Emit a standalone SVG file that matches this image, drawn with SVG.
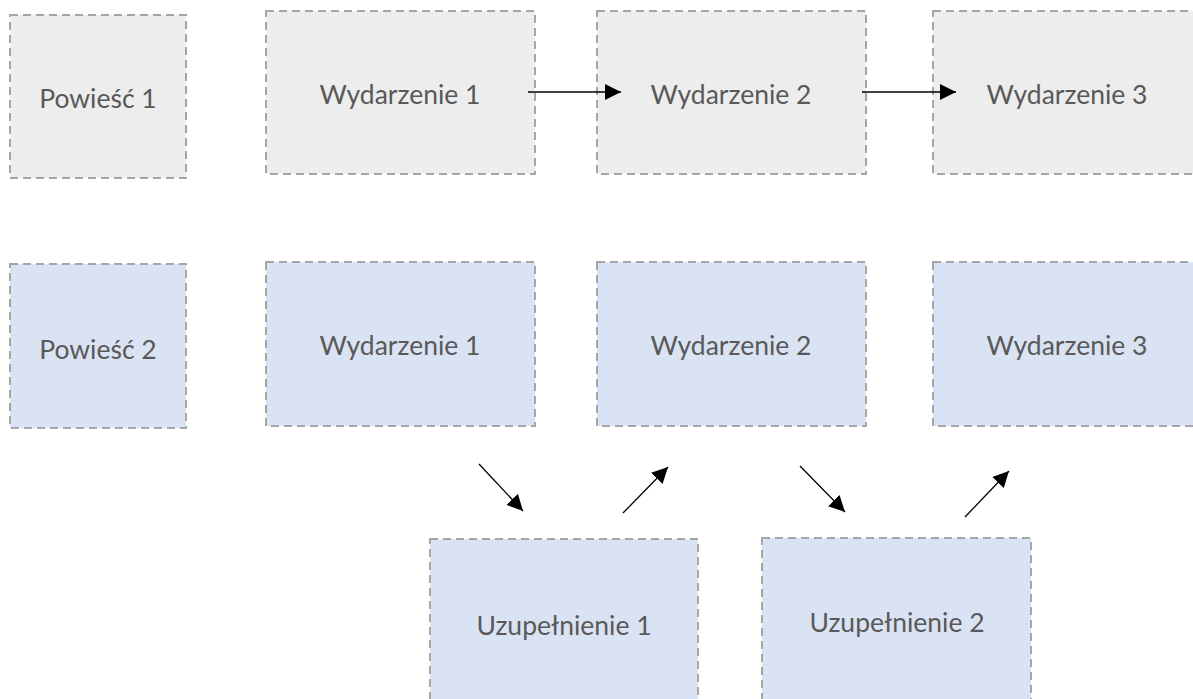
<svg xmlns="http://www.w3.org/2000/svg" width="1193" height="699" viewBox="0 0 1193 699">
  <style>
    .box { stroke: #a6a6a6; stroke-width: 2; stroke-dasharray: 8 5; }
    .grey { fill: #ededed; }
    .blue { fill: #dae3f3; }
    .label { font-family: Lato, "Open Sans", sans-serif; font-size: 26.5px; fill: #595959; text-anchor: middle; dominant-baseline: central; }
    .link { stroke: #000; stroke-width: 1.3; fill: none; marker-end: url(#head); }
  </style>
  <defs>
    <marker id="head" viewBox="0 0 10 10" refX="10" refY="5" markerWidth="16" markerHeight="16" markerUnits="userSpaceOnUse" orient="auto">
      <path d="M0,0 L10,5 L0,10 z" fill="#000"/>
    </marker>
  </defs>
  <rect width="1193" height="699" fill="#fff"/>

  <g id="powiesc1">
    <rect class="box grey" x="10" y="15" width="176" height="163"/>
    <text class="label" x="98" y="98">Powieść 1</text>
  </g>
  <g id="p1-wydarzenie1">
    <rect class="box grey" x="266" y="11" width="269" height="163"/>
    <text class="label" x="400" y="94">Wydarzenie 1</text>
  </g>
  <g id="p1-wydarzenie2">
    <rect class="box grey" x="597" y="11" width="269" height="163"/>
    <text class="label" x="731" y="94">Wydarzenie 2</text>
  </g>
  <g id="p1-wydarzenie3">
    <rect class="box grey" x="933" y="11" width="269" height="163"/>
    <text class="label" x="1067" y="94">Wydarzenie 3</text>
  </g>

  <g id="powiesc2">
    <rect class="box blue" x="10" y="264" width="176" height="164"/>
    <text class="label" x="98" y="349">Powieść 2</text>
  </g>
  <g id="p2-wydarzenie1">
    <rect class="box blue" x="266" y="262" width="269" height="164"/>
    <text class="label" x="400" y="345">Wydarzenie 1</text>
  </g>
  <g id="p2-wydarzenie2">
    <rect class="box blue" x="597" y="262" width="269" height="164"/>
    <text class="label" x="731" y="345">Wydarzenie 2</text>
  </g>
  <g id="p2-wydarzenie3">
    <rect class="box blue" x="933" y="262" width="269" height="164"/>
    <text class="label" x="1067" y="345">Wydarzenie 3</text>
  </g>

  <g id="uzupelnienie1">
    <rect class="box blue" x="430" y="539" width="268" height="170"/>
    <text class="label" x="564" y="625">Uzupełnienie 1</text>
  </g>
  <g id="uzupelnienie2">
    <rect class="box blue" x="762" y="538" width="269" height="170"/>
    <text class="label" x="897" y="622">Uzupełnienie 2</text>
  </g>

  <g id="connectors">
    <line class="link" x1="528" y1="92" x2="621" y2="92"/>
    <line class="link" x1="862" y1="92" x2="956" y2="92"/>
    <line class="link" x1="479" y1="464" x2="523" y2="511"/>
    <line class="link" x1="623" y1="513" x2="668" y2="467"/>
    <line class="link" x1="800" y1="466" x2="845" y2="512"/>
    <line class="link" x1="965" y1="517" x2="1009" y2="471"/>
  </g>
</svg>
